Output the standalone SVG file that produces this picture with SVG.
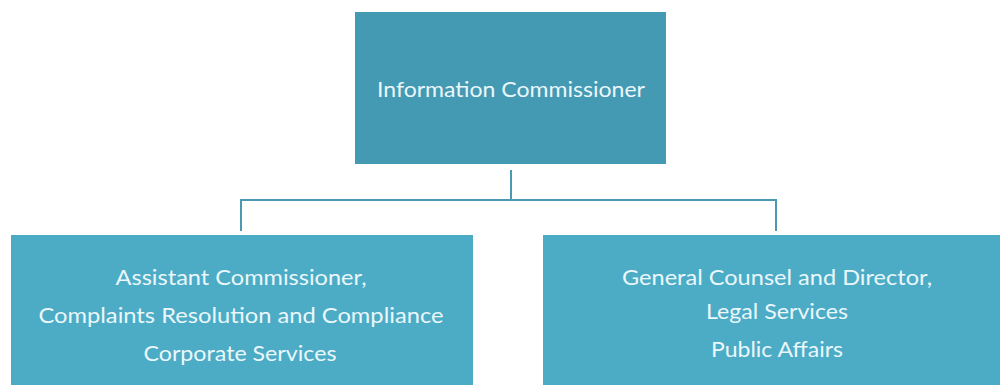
<svg xmlns="http://www.w3.org/2000/svg" width="1000" height="385" viewBox="0 0 1000 385">
  <style>
    .top { fill: #4499b3; }
    .box { fill: #4cacc6; }
    .label { font-family: "Lato", "Open Sans", "Liberation Sans", sans-serif; font-size: 22px; fill: #eaf7fb; text-anchor: middle; }
    .link { fill: none; stroke: #4a9ab4; stroke-width: 2; }
  </style>
  <rect width="1000" height="385" fill="#ffffff"/>

  <g id="connectors">
    <path class="link" d="M511 170 V200"/>
    <path class="link" d="M241 231 V200 H776 V231"/>
  </g>

  <g id="information-commissioner">
    <rect class="top" x="355" y="12" width="311" height="152"/>
    <text class="label" x="511" y="97" textLength="268" lengthAdjust="spacingAndGlyphs">Information Commissioner</text>
  </g>

  <g id="assistant-commissioner">
    <rect class="box" x="11" y="235" width="462" height="150"/>
    <text class="label" x="241" y="285" textLength="251" lengthAdjust="spacingAndGlyphs">Assistant Commissioner,</text>
    <text class="label" x="241" y="323" textLength="405" lengthAdjust="spacingAndGlyphs">Complaints Resolution and Compliance</text>
    <text class="label" x="240" y="361" textLength="193" lengthAdjust="spacingAndGlyphs">Corporate Services</text>
  </g>

  <g id="general-counsel">
    <rect class="box" x="543" y="235" width="457" height="150"/>
    <text class="label" x="777" y="285" textLength="310" lengthAdjust="spacingAndGlyphs">General Counsel and Director,</text>
    <text class="label" x="777" y="319" textLength="142" lengthAdjust="spacingAndGlyphs">Legal Services</text>
    <text class="label" x="777" y="357" textLength="132" lengthAdjust="spacingAndGlyphs">Public Affairs</text>
  </g>
</svg>
